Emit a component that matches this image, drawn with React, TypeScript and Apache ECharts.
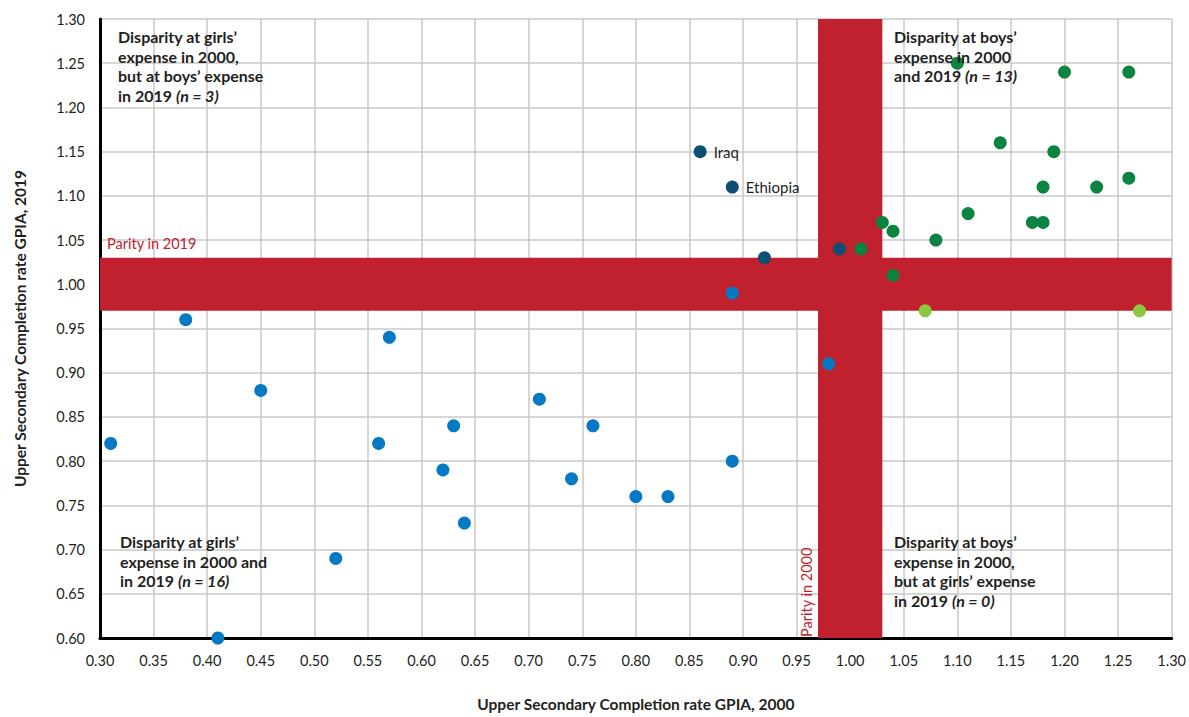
import React, { useEffect, useRef } from "react";
import * as echarts from "echarts";

const blueGirls: [number, number][] = [
  [0.31, 0.82], [0.38, 0.96], [0.41, 0.6], [0.45, 0.88], [0.52, 0.69], [0.56, 0.82],
  [0.57, 0.94], [0.62, 0.79], [0.63, 0.84], [0.64, 0.73], [0.71, 0.87], [0.74, 0.78],
  [0.76, 0.84], [0.8, 0.76], [0.83, 0.76], [0.89, 0.8], [0.89, 0.99], [0.98, 0.91],
];
const darkBlueNames = ["Iraq", "Ethiopia", "", ""];
const darkBlueSwitch: [number, number][] = [[0.86, 1.15], [0.89, 1.11], [0.92, 1.03], [0.99, 1.04]];
const greenBoys: [number, number][] = [
  [1.1, 1.25], [1.2, 1.24], [1.26, 1.24], [1.14, 1.16], [1.19, 1.15], [1.26, 1.12],
  [1.18, 1.11], [1.23, 1.11], [1.11, 1.08], [1.03, 1.07], [1.17, 1.07], [1.18, 1.07],
  [1.04, 1.06], [1.08, 1.05], [1.01, 1.04], [1.04, 1.01],
];
const lightGreen: [number, number][] = [[1.07, 0.97], [1.27, 0.97]];
const parityBand = [0.97, 1.03];

const FONT = "Lato, 'Open Sans', sans-serif";
const RED = "#c1202f";
const TXT = "#231f20";

const richStyle = {
  b: { fontFamily: FONT, fontSize: 16, fontWeight: "bold", fill: TXT, lineHeight: 19.5 },
  i: { fontFamily: FONT, fontSize: 16, fontWeight: "bold", fontStyle: "italic", fill: TXT, lineHeight: 19.5 },
};

function note(x: number, y: number, lines: string[], n: string) {
  const txt = lines.map((l, k) => (k === lines.length - 1 ? `{b|${l} }{i|(n = ${n})}` : `{b|${l}}`)).join("\n");
  return {
    type: "text",
    x,
    y,
    z: 100,
    style: { text: txt, rich: richStyle, fill: TXT, align: "left", verticalAlign: "top" },
  };
}

export default function App() {
  const ref = useRef<HTMLDivElement>(null);
  useEffect(() => {
    if (!ref.current) return;
    const chart = echarts.init(ref.current, null, { renderer: "svg" });
    const axisCommon = {
      type: "value",
      min: 0.3,
      max: 1.3,
      interval: 0.05,
      axisLine: { show: true, lineStyle: { color: "#000", width: 3 } },
      axisTick: { show: false },
      splitLine: { show: true, lineStyle: { color: "#c8c8c8", width: 1.5 } },
      axisLabel: { color: TXT, fontFamily: FONT, fontSize: 14.5, formatter: (v: number) => v.toFixed(2) },
      nameLocation: "middle",
      nameTextStyle: { color: TXT, fontFamily: FONT, fontSize: 15.5, fontWeight: "bold" },
    };
    chart.setOption({
      animation: false,
      grid: { left: 100, right: 16, top: 19, bottom: 76 },
      xAxis: {
        ...axisCommon,
        name: "Upper Secondary Completion rate GPIA, 2000",
        nameGap: 58,
        axisLabel: { ...axisCommon.axisLabel, margin: 15 },
      },
      yAxis: {
        ...axisCommon,
        min: 0.6,
        max: 1.3,
        name: "Upper Secondary Completion rate GPIA, 2019",
        nameGap: 72,
        axisLabel: { ...axisCommon.axisLabel, margin: 15 },
      },
      series: [
        {
          type: "scatter",
          data: [],
          z: 1,
          markArea: {
            silent: true,
            itemStyle: { color: RED, opacity: 1 },
            label: { show: false },
            data: [
              [{ xAxis: parityBand[0] }, { xAxis: parityBand[1] }],
              [{ yAxis: parityBand[0] }, { yAxis: parityBand[1] }],
            ],
          },
        },
        {
          type: "scatter",
          z: 5,
          symbolSize: 13,
          itemStyle: { color: "#0679c5", opacity: 1 },
          data: blueGirls,
        },
        {
          type: "scatter",
          z: 5,
          symbolSize: 13,
          itemStyle: { color: "#0d5074", opacity: 1 },
          data: darkBlueSwitch.map((p, k) => ({
            value: p,
            name: darkBlueNames[k],
            label: {
              show: darkBlueNames[k] !== "",
              position: "right",
              distance: 7,
              formatter: "{b}",
              color: TXT,
              fontFamily: FONT,
              fontSize: 15,
            },
          })),
        },
        {
          type: "scatter",
          z: 5,
          symbolSize: 13,
          itemStyle: { color: "#0b8441", opacity: 1 },
          data: greenBoys,
        },
        {
          type: "scatter",
          z: 5,
          symbolSize: 13,
          itemStyle: { color: "#8dc63f", opacity: 1 },
          data: lightGreen,
        },
      ],
      graphic: [
        note(118, 27, ["Disparity at girls’", "expense in 2000,", "but at boys’ expense", "in 2019"], "3"),
        note(894, 27, ["Disparity at boys’", "expense in 2000", "and 2019"], "13"),
        note(120, 532, ["Disparity at girls’", "expense in 2000 and", "in 2019"], "16"),
        note(894, 532, ["Disparity at boys’", "expense in 2000,", "but at girls’ expense", "in 2019"], "0"),
        {
          type: "text",
          x: 107,
          y: 243,
          z: 100,
          style: { text: "Parity in 2019", fill: RED, fontFamily: FONT, fontSize: 14.5, align: "left", verticalAlign: "middle" },
        },
        {
          type: "text",
          x: 806,
          y: 637,
          rotation: Math.PI / 2,
          z: 100,
          style: { text: "Parity in 2000", fill: RED, fontFamily: FONT, fontSize: 14.5, align: "left", verticalAlign: "middle" },
        },
      ],
    });
    return () => chart.dispose();
  }, []);
  return <div ref={ref} style={{ width: 1189, height: 717, position: "absolute", left: 0, top: 0, background: "#fff" }} />;
}
